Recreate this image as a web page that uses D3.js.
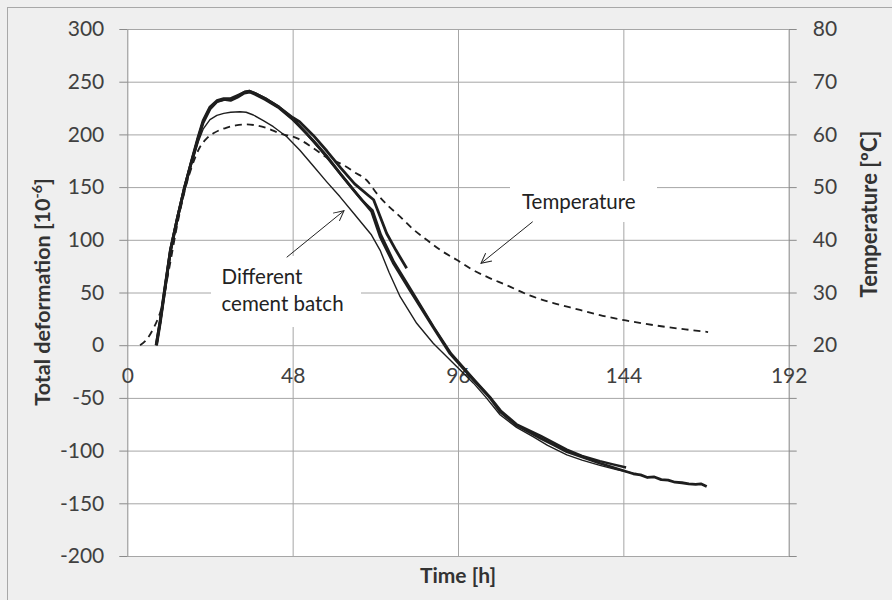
<!DOCTYPE html>
<html>
<head>
<meta charset="utf-8">
<script src="https://cdn.jsdelivr.net/npm/d3@7"></script>
<style>
  html, body { margin: 0; padding: 0; background: #efefef; }
  svg { display: block; }
  text { font-family: Lato, "Open Sans", sans-serif; }
</style>
</head>
<body>
<svg id="chart" width="892" height="600"></svg>
<script>
// ---- data ----
const xTicks = [0, 48, 96, 144, 192];
const yTicks = [-200, -150, -100, -50, 0, 50, 100, 150, 200, 250, 300];
const tempTicks = [20, 30, 40, 50, 60, 70, 80];

// Specimen A (thick, stops at ~81 h)
const timeA = [8.5, 9.6, 10.8, 12.5, 14.5, 16.5, 18.5, 20.5, 22, 24, 26, 28, 30, 32, 34, 35.5, 37, 40, 44, 48, 50, 54, 58, 62, 66, 70, 71.5, 75.3, 78, 81.1];
const defA  = [0, 22, 50, 90, 120, 148, 173, 197, 213, 226, 232, 234, 234, 237, 240, 241, 239, 234, 226, 216, 212, 199, 184, 168, 153, 142, 138, 106, 90, 73];

// Specimen B (thick, longest)
const timeB = [8.4, 9.5, 10.7, 12.5, 14.5, 16.5, 18.5, 20.5, 22, 24, 26, 28, 30, 32, 34, 35.5, 37, 40, 44, 48, 50, 54, 58, 62, 66, 70.9, 73.4, 77.2, 82.1, 88.8, 93.7, 100.5, 105.3, 108.2, 113, 119.8, 124, 127.6, 132, 137.2, 142, 146.9, 149, 151, 153, 155, 157, 159, 161, 163, 165, 166.5, 168.2];
const defB  = [0, 22, 50, 90, 120, 148, 172, 195, 211, 224, 231, 233, 233, 236, 240, 241, 239, 234, 226, 215, 208, 194, 179, 162, 146, 127, 103, 78, 52, 17, -8, -33, -50, -63, -76, -88, -95, -101, -106, -112, -117, -122, -123, -125.5, -125, -127.5, -128, -130, -130.5, -131.5, -132, -131.5, -134];

// Specimen C (medium, stops at ~145 h)
const timeC = [8.3, 9.5, 10.7, 12.5, 14.5, 16.5, 18.5, 20.5, 22, 24, 26, 28, 30, 32, 34, 35.5, 37, 40, 44, 48, 52, 56, 60, 64, 68, 71.2, 73.6, 77.4, 82.3, 89, 94, 100.8, 105.5, 108.4, 113, 120, 127.6, 132, 137.2, 141, 144.8];
const defC  = [0, 23, 50, 90, 121, 149, 173, 196, 212, 225, 231, 233, 232, 235, 239, 240, 238, 233, 225, 214, 201, 186, 170, 154, 138, 128, 105, 79, 53, 17, -8, -33, -50, -62, -75, -86, -99, -105, -110, -113, -116];

// Specimen D (thin, different cement batch)
const timeD = [8.6, 9.7, 11, 12.7, 14.6, 16.6, 18.5, 20.6, 22, 24, 26, 28, 30, 32.7, 34.5, 36.6, 39.5, 42.4, 46.3, 50.1, 54, 57.9, 61.7, 66, 70.9, 73.4, 76, 79.2, 84, 88.8, 93.7, 100.5, 104, 108.2, 113, 117.9, 122, 127.6, 132, 137.2, 142, 146.9, 148];
const defD  = [0, 22, 50, 88, 118, 146, 170, 193, 205, 214, 218, 220, 221, 221.5, 221, 218.4, 213, 207.3, 197.8, 185, 170, 155, 141, 124, 104.5, 90, 69, 46, 20.8, 1.8, -14, -36, -49, -66, -78, -87, -95, -104, -109, -114, -118, -121.5, -122];

// Temperature (dashed, right axis, °C)
const timeT = [3.7, 5.5, 7.6, 10, 12, 14.8, 16.8, 18.7, 21.1, 23, 25, 28.9, 31.5, 34.7, 37.5, 40.5, 44.3, 49.2, 54, 58, 62.7, 66, 69.5, 72.4, 75.5, 79.2, 83, 86.9, 91, 95.6, 100, 104.3, 110.1, 117, 123.7, 131.4, 137.2, 144.7, 150, 156, 162, 168.6];
const tempT = [20, 21, 23.2, 27.3, 34, 43.8, 49.6, 53.8, 57.6, 59.2, 60.2, 61.3, 61.7, 61.9, 61.7, 61.2, 60.2, 59.3, 57.4, 55.6, 54.2, 52.8, 51.3, 48.8, 46.6, 44.4, 42, 40, 38, 36.2, 34.4, 33, 31.4, 29.4, 28, 26.7, 25.7, 24.7, 24.1, 23.5, 23, 22.5];

// ---- layout ----
const svg = d3.select("#chart");
const L = 127.3, R = 788.7, T = 29, B = 556;
const x = d3.scaleLinear().domain([0, 192]).range([L, R]);
const y = d3.scaleLinear().domain([-200, 300]).range([B, T]);
const yT = d3.scaleLinear().domain([-20, 80]).range([B, T]);

const gridColor = "#a6a6a6", axisColor = "#8a8a8a", textColor = "#404040", ink = "#1e1e1e";
const fmt = d => String(d);

// outer frame
svg.append("rect").attr("x", 7.5).attr("y", 7.5).attr("width", 900).attr("height", 600)
  .attr("fill", "#efefef").attr("stroke", "#a8a8a8").attr("stroke-width", 1);

// plot area
svg.append("rect").attr("x", L).attr("y", T).attr("width", R - L).attr("height", B - T).attr("fill", "#ffffff");

// horizontal gridlines
svg.append("g").attr("transform", `translate(${L},0)`)
  .call(d3.axisLeft(y).tickValues(yTicks).tickSize(-(R - L)).tickFormat(""))
  .call(g => g.select(".domain").remove())
  .call(g => g.selectAll("line").attr("stroke", gridColor).attr("stroke-width", 1));

// vertical gridlines
svg.append("g").attr("transform", `translate(0,${B})`)
  .call(d3.axisBottom(x).tickValues(xTicks.slice(1, -1)).tickSize(-(B - T)).tickFormat(""))
  .call(g => g.select(".domain").remove())
  .call(g => g.selectAll("line").attr("stroke", gridColor).attr("stroke-width", 1));

// left axis
svg.append("g").attr("transform", `translate(${L},0)`)
  .call(d3.axisLeft(y).tickValues(yTicks).tickSize(8).tickPadding(15).tickSizeOuter(0).tickFormat(fmt))
  .call(g => g.select(".domain").attr("stroke", axisColor))
  .call(g => g.selectAll("line").attr("stroke", axisColor))
  .call(g => g.selectAll("text").attr("fill", textColor).style("font-size", "21px").style("font-family", "Lato, sans-serif"));

// right axis
svg.append("g").attr("transform", `translate(${R},0)`)
  .call(d3.axisRight(yT).tickValues(d3.range(-20, 81, 10)).tickSize(8).tickPadding(16).tickSizeOuter(0)
        .tickFormat(d => tempTicks.includes(d) ? String(d) : ""))
  .call(g => g.select(".domain").attr("stroke", axisColor))
  .call(g => g.selectAll("line").attr("stroke", axisColor))
  .call(g => g.selectAll("text").attr("fill", textColor).style("font-size", "21px").style("font-family", "Lato, sans-serif"));

// x axis labels at the zero line
svg.append("g").attr("transform", `translate(0,${y(0)})`)
  .call(d3.axisBottom(x).tickValues(xTicks).tickSize(0).tickPadding(23).tickFormat(fmt))
  .call(g => g.select(".domain").remove())
  .call(g => g.selectAll("text").attr("fill", textColor).style("font-size", "21px").style("font-family", "Lato, sans-serif"));

// annotation boxes (white, hide gridlines)
svg.append("rect").attr("x", 211).attr("y", 256).attr("width", 150).attr("height", 71).attr("fill", "#fff");
svg.append("rect").attr("x", 510).attr("y", 181).attr("width", 147).attr("height", 41).attr("fill", "#fff");

// curves
const lineDef = (ts, vs) => d3.line().x((d, i) => x(ts[i])).y(d => y(d))(vs);
svg.append("path").attr("d", lineDef(timeD, defD)).attr("fill", "none").attr("stroke", ink).attr("stroke-width", 1.4).attr("stroke-linejoin", "round");
svg.append("path").attr("d", lineDef(timeC, defC)).attr("fill", "none").attr("stroke", ink).attr("stroke-width", 2.4).attr("stroke-linejoin", "round");
svg.append("path").attr("d", lineDef(timeB, defB)).attr("fill", "none").attr("stroke", ink).attr("stroke-width", 2.8).attr("stroke-linejoin", "round");
svg.append("path").attr("d", lineDef(timeA, defA)).attr("fill", "none").attr("stroke", ink).attr("stroke-width", 2.8).attr("stroke-linejoin", "round");
const lineT = d3.line().x((d, i) => x(timeT[i])).y(d => yT(d)).curve(d3.curveMonotoneX);
svg.append("path").attr("d", lineT(tempT)).attr("fill", "none").attr("stroke", ink).attr("stroke-width", 1.8).attr("stroke-dasharray", "7,5");

// arrows
const defs = svg.append("defs");
defs.append("marker").attr("id", "arr").attr("viewBox", "0 0 12 12").attr("refX", 11).attr("refY", 6)
  .attr("markerWidth", 12).attr("markerHeight", 12).attr("markerUnits", "userSpaceOnUse").attr("orient", "auto")
  .append("path").attr("d", "M1,1 L11,6 L1,11").attr("fill", "none").attr("stroke", "#222").attr("stroke-width", 1);
svg.append("line").attr("x1", 286.7).attr("y1", 257.3).attr("x2", 344).attr("y2", 210.7)
  .attr("stroke", "#222").attr("stroke-width", 1).attr("marker-end", "url(#arr)");
svg.append("line").attr("x1", 532.7).attr("y1", 221.7).attr("x2", 481).attr("y2", 263.3)
  .attr("stroke", "#222").attr("stroke-width", 1).attr("marker-end", "url(#arr)");

// annotation texts
const ann = svg.append("g").attr("fill", "#222").style("font-size", "20.5px");
ann.append("text").attr("x", 221.5).attr("y", 284).text("Different");
ann.append("text").attr("x", 221.5).attr("y", 310.5).text("cement batch");
ann.append("text").attr("x", 522).attr("y", 209).text("Temperature");

// axis titles
const lt = svg.append("text").attr("transform", "translate(50,292) rotate(-90)").attr("text-anchor", "middle")
  .attr("fill", "#333").style("font-size", "21.5px").style("font-weight", "bold");
lt.append("tspan").text("Total deformation [10");
lt.append("tspan").text("-6").style("font-size", "14px").attr("dy", -8);
lt.append("tspan").text("]").attr("dy", 8);

svg.append("text").attr("transform", "translate(877,214) rotate(-90)").attr("text-anchor", "middle")
  .attr("fill", "#333").style("font-size", "22px").style("font-weight", "bold").text("Temperature [ºC]");

svg.append("text").attr("x", 458).attr("y", 582.5).attr("text-anchor", "middle")
  .attr("fill", "#333").style("font-size", "21px").style("font-weight", "bold").text("Time [h]");
</script>
</body>
</html>
